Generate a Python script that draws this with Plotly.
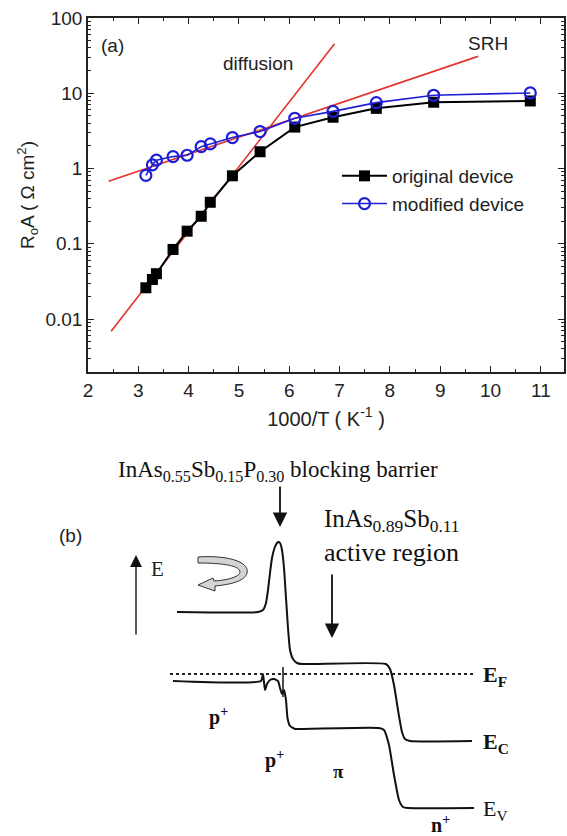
import plotly.graph_objects as go

# ---------------- panel (a) data ----------------
inv_T = [3.15, 3.28, 3.36, 3.69, 3.97, 4.25, 4.43, 4.87, 5.42, 6.11, 6.87, 7.73, 8.87, 10.79]
r0a_original = [0.026, 0.0335, 0.040, 0.084, 0.147, 0.232, 0.356, 0.80, 1.67, 3.55, 4.8, 6.3, 7.6, 7.9]
r0a_modified = [0.81, 1.12, 1.29, 1.44, 1.50, 1.95, 2.12, 2.58, 3.10, 4.65, 5.75, 7.5, 9.4, 10.1]

diffusion_x = [2.46, 6.90]
diffusion_y = [0.0069, 45.6]
srh_x = [2.41, 9.75]
srh_y = [0.676, 30.9]

y_tickvals = [0.01, 0.1, 1, 10, 100]
y_ticktext = ["0.01", "0.1", "1", "10", "100"]
y_minor_vals = [k * 10.0 ** e for e in range(-3, 2) for k in range(2, 10)]
x_tickvals = [2, 3, 4, 5, 6, 7, 8, 9, 10, 11]

# ---------------- panel (b) band diagram (schematic units) ----------------
ec_x = [177, 258, 263, 266, 268, 270, 272, 274.5, 277, 278.5, 280, 282, 284, 286, 288, 290, 293, 297, 302,
        386, 390, 394, 398, 402, 405, 410, 472]
ec_y = [612, 612, 610, 603, 590, 573, 558, 548, 543, 542, 543, 550, 568, 598, 628, 650, 659, 663, 664,
        664, 669, 685, 710, 732, 739, 741, 741]
ev_x = [173, 261, 263, 265, 267, 270, 274, 278, 280, 282, 284, 286, 287.5, 290, 295, 300,
        379, 384, 389, 394, 399, 403, 408, 474]
ev_y = [681, 681, 674, 690, 684, 680, 679, 681, 688, 694, 690, 700, 718, 726, 729, 729,
        728, 730, 745, 775, 800, 807, 808, 808]
spike_x = [283, 283]
spike_y = [667, 697]
ef_x = [170, 473]
ef_y = [674, 674]

SANS = "Liberation Sans, Arial, sans-serif"
SERIF = "Liberation Serif, Times New Roman, serif"
TXT = "#222"

fig = go.Figure()

fig.add_trace(go.Scatter(x=diffusion_x, y=diffusion_y, mode="lines",
                         line=dict(color="#e4322b", width=1.6), showlegend=False))
fig.add_trace(go.Scatter(x=srh_x, y=srh_y, mode="lines",
                         line=dict(color="#e4322b", width=1.6), showlegend=False))
fig.add_trace(go.Scatter(x=inv_T, y=r0a_original, mode="lines+markers", name="original device",
                         line=dict(color="black", width=2),
                         marker=dict(symbol="square", size=11, color="black")))
fig.add_trace(go.Scatter(x=inv_T, y=r0a_modified, mode="lines+markers", name="modified device",
                         line=dict(color="#1f1fd6", width=1.6),
                         marker=dict(symbol="circle-open", size=11, color="#1f1fd6", line=dict(width=2.2))))

# band diagram
for bx, by in [(ec_x, ec_y), (ev_x, ev_y)]:
    fig.add_trace(go.Scatter(x=bx, y=by, xaxis="x2", yaxis="y2", mode="lines",
                             line=dict(color="#111", width=2, shape="spline", smoothing=0.5),
                             showlegend=False, hoverinfo="skip"))
fig.add_trace(go.Scatter(x=spike_x, y=spike_y, xaxis="x2", yaxis="y2", mode="lines",
                         line=dict(color="#111", width=1.5), showlegend=False, hoverinfo="skip"))
fig.add_trace(go.Scatter(x=ef_x, y=ef_y, xaxis="x2", yaxis="y2", mode="lines",
                         line=dict(color="#222", width=2, dash="dot"), showlegend=False, hoverinfo="skip"))

W, H = 567, 836
ML, MR, MT, MB = 88, 3, 18, 0
pw = W - ML - MR
ph = H - MT - MB
ydom_a0 = (H - 372) / ph
ydom_b1 = (H - 420) / ph

ann = []
# panel (a) labels
ann.append(dict(x=2.485, y=1.641, xref="x", yref="y", text="(a)", showarrow=False,
                font=dict(family=SANS, size=19, color=TXT)))
ann.append(dict(x=5.38, y=1.398, xref="x", yref="y", text="diffusion", showarrow=False,
                font=dict(family=SANS, size=19, color=TXT)))
ann.append(dict(x=9.95, y=1.664, xref="x", yref="y", text="SRH", showarrow=False,
                font=dict(family=SANS, size=19, color=TXT)))

# panel (b) labels
ann.append(dict(x=278, y=471, xref="x2", yref="y2", showarrow=False,
                text="InAs<sub>0.55</sub>Sb<sub>0.15</sub>P<sub>0.30</sub> blocking barrier",
                font=dict(family=SERIF, size=23, color="#111")))
ann.append(dict(x=322, y=520, xref="x2", yref="y2", showarrow=False, xanchor="left",
                text="InAs<sub>0.89</sub>Sb<sub>0.11</sub>",
                font=dict(family=SERIF, size=25, color="#111")))
ann.append(dict(x=322, y=552, xref="x2", yref="y2", showarrow=False, xanchor="left",
                text="active region", font=dict(family=SERIF, size=26, color="#111")))
ann.append(dict(x=(70 - ML) / pw, y=(H - 535) / ph, xref="paper", yref="paper", showarrow=False,
                xanchor="center", yanchor="middle",
                text="(b)", font=dict(family=SANS, size=19, color=TXT)))
ann.append(dict(x=157, y=569, xref="x2", yref="y2", showarrow=False, text="E",
                font=dict(family=SERIF, size=21, color="#222")))
ann.append(dict(x=218, y=716, xref="x2", yref="y2", showarrow=False, text="<b>p<sup>+</sup></b>",
                font=dict(family=SERIF, size=20, color="#111")))
ann.append(dict(x=274, y=759, xref="x2", yref="y2", showarrow=False, text="<b>p<sup>+</sup></b>",
                font=dict(family=SERIF, size=20, color="#111")))
ann.append(dict(x=338, y=771, xref="x2", yref="y2", showarrow=False, text="<b>π</b>",
                font=dict(family=SERIF, size=19, color="#111")))
ann.append(dict(x=440, y=824, xref="x2", yref="y2", showarrow=False, text="<b>n<sup>+</sup></b>",
                font=dict(family=SERIF, size=20, color="#111")))
ann.append(dict(x=481, y=676, xref="x2", yref="y2", showarrow=False, xanchor="left",
                text="<b>E<sub>F</sub></b>", font=dict(family=SERIF, size=22, color="#111")))
ann.append(dict(x=481, y=743, xref="x2", yref="y2", showarrow=False, xanchor="left",
                text="<b>E<sub>C</sub></b>", font=dict(family=SERIF, size=22, color="#111")))
ann.append(dict(x=481, y=810, xref="x2", yref="y2", showarrow=False, xanchor="left",
                text="E<sub>V</sub>", font=dict(family=SERIF, size=22, color="#111")))
# arrows
ann.append(dict(x=280, y=527, ax=280, ay=485, xref="x2", yref="y2", axref="x2", ayref="y2",
                text="", showarrow=True, arrowhead=2, arrowsize=1.6, arrowwidth=1.8, arrowcolor="#111"))
ann.append(dict(x=332, y=638, ax=332, ay=573, xref="x2", yref="y2", axref="x2", ayref="y2",
                text="", showarrow=True, arrowhead=2, arrowsize=1.6, arrowwidth=1.8, arrowcolor="#111"))
ann.append(dict(x=136, y=555, ax=136, ay=636, xref="x2", yref="y2", axref="x2", ayref="y2",
                text="", showarrow=True, arrowhead=2, arrowsize=1.7, arrowwidth=1.4, arrowcolor="#111"))

shapes = [dict(type="path", xref="x2", yref="y2",
               path="M 198 557 C 225 555, 250 561, 247 573 C 245 580, 235 584, 215 586 "
                    "L 215 591 L 198 585 L 213 578 L 214 581 C 230 580, 240 576, 240 572 "
                    "C 240 566, 225 563, 198 563 Z",
               fillcolor="#d4d4d4", line=dict(color="#333", width=1))]

fig.update_layout(
    width=W, height=H,
    margin=dict(l=ML, r=MR, t=MT, b=MB),
    paper_bgcolor="white", plot_bgcolor="white",
    font=dict(family=SANS, size=19, color=TXT),
    xaxis=dict(range=[2, 11.46], domain=[0, 1], anchor="y",
               tickvals=x_tickvals, ticks="inside", ticklen=6, tickwidth=1.3, tickcolor=TXT,
               minor=dict(ticks="inside", ticklen=3, dtick=0.5, tickcolor=TXT),
               showline=True, linecolor=TXT, linewidth=1.6, mirror="ticks",
               showgrid=False, zeroline=False,
               tickfont=dict(family=SANS, size=19, color=TXT),
               title=dict(text="1000/T ( K<sup>-1</sup> )", font=dict(family=SANS, size=20, color=TXT),
                          standoff=12)),
    yaxis=dict(type="log", range=[-2.704, 2.0], domain=[ydom_a0, 1], anchor="x",
               tickvals=y_tickvals, ticktext=y_ticktext,
               ticks="inside", ticklen=6, tickwidth=1.3, tickcolor=TXT,
               minor=dict(ticks="inside", ticklen=3, tickcolor=TXT, tickvals=y_minor_vals),
               showline=True, linecolor=TXT, linewidth=1.6, mirror="ticks",
               showgrid=False, zeroline=False,
               tickfont=dict(family=SANS, size=19, color=TXT),
               title=dict(text="R<sub>o</sub>A ( Ω cm<sup>2</sup>)", font=dict(family=SANS, size=19, color=TXT),
                          standoff=6)),
    xaxis2=dict(range=[ML, W - MR], domain=[0, 1], anchor="y2", visible=False),
    yaxis2=dict(range=[H, 420], domain=[0, ydom_b1], anchor="x2", visible=False),
    legend=dict(x=(337 - ML) / pw, y=(H - 157) / ph, xanchor="left", yanchor="top",
                bgcolor="rgba(0,0,0,0)", itemwidth=45,
                font=dict(family=SANS, size=19, color=TXT)),
    annotations=ann,
    shapes=shapes,
)

fig.write_html("out.html")
